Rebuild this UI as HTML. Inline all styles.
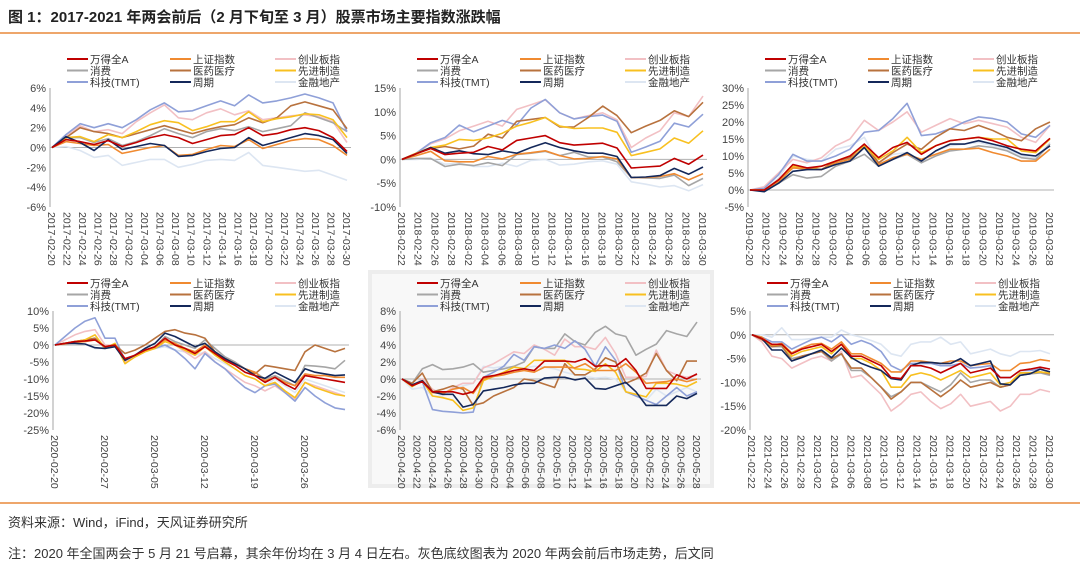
<!DOCTYPE html>
<html><head><meta charset="utf-8">
<style>
body{margin:0;background:#fff;}
svg{display:block;font-family:"Liberation Sans","Noto Sans CJK SC",sans-serif;}
</style></head>
<body>
<svg id="chart" width="1080" height="568" viewBox="0 0 1080 568">
<text x="8" y="22" font-size="15" font-weight="bold" fill="#222">图 1：2017-2021 年两会前后（2 月下旬至 3 月）股票市场主要指数涨跌幅</text>
<line x1="0" y1="33" x2="1080" y2="33" stroke="#e8883a" stroke-width="1.5"/>
<rect x="368" y="270" width="346" height="218" fill="#ededed"/>
<rect x="372" y="274" width="338" height="210" fill="#f8f8f8"/>
<line x1="0" y1="503" x2="1080" y2="503" stroke="#e8883a" stroke-width="1.5"/>
<text x="8" y="527" font-size="13" fill="#333">资料来源：Wind，iFind，天风证券研究所</text>
<text x="8" y="558" font-size="13" fill="#333">注：2020 年全国两会于 5 月 21 号启幕，其余年份均在 3 月 4 日左右。灰色底纹图表为 2020 年两会前后市场走势，后文同</text>
</svg>
<script>
const seriesNames=["万得全A","上证指数","创业板指","消费","医药医疗","先进制造","科技(TMT)","周期","金融地产"];
const seriesKeys=["wind","sz","cyb","xf","yy","zz","tmt","zq","jr"];
const seriesColors=["#c00000","#f08a30","#f2c0c4","#a6a6a6","#b8723e","#f8c020","#8fa0d8","#14285a","#dde6f2"];

const p1_wind=[0,0.8,0.6,0.3,0.7,0.1,0.5,1.0,1.3,1.0,0.4,0.8,1.2,1.3,2.0,1.2,1.4,1.8,2.0,1.7,1.0,-0.4];
const p1_sz=[0,0.6,0.4,0.2,0.3,-0.6,-0.3,0,0.2,-0.8,-0.7,-0.2,0.2,0.1,0.8,-0.1,0.3,0.7,0.9,0.8,0.2,-0.8];
const p1_cyb=[0,1.2,2.2,1.6,1.8,1.4,2.6,3.5,4.3,3.0,2.8,3.5,3.9,3.3,3.7,2.8,3.0,3.2,3.3,3.1,2.6,0.5];
const p1_xf=[0,1.0,1.0,0.5,0.9,0.2,0.6,1.2,1.9,1.4,1.0,1.6,1.9,1.7,2.1,1.6,1.9,2.2,3.5,3.0,2.5,1.6];
const p1_yy=[0,1.0,2.0,1.6,1.4,1.0,1.4,1.8,2.2,1.8,1.4,1.8,2.1,2.3,3.0,2.5,3.0,4.2,4.6,4.2,3.8,1.9];
const p1_zz=[0,1.0,1.1,0.6,1.3,1.0,1.6,2.3,2.7,2.5,1.7,2.1,2.6,2.6,3.6,2.6,2.9,3.1,3.4,3.3,2.8,1.0];
const p1_tmt=[0,1.3,2.4,2.0,2.4,2.0,2.8,3.8,4.5,3.6,3.7,4.2,4.7,4.2,5.3,4.5,4.7,5.0,5.4,5.0,4.5,1.6];
const p1_zq=[0,1.1,0.5,-0.3,0.8,-0.2,0.1,0.4,0.2,-0.9,-0.8,-0.4,-0.1,0,1.0,0.2,0.6,1.0,1.4,1.2,0.8,-0.6];
const p1_jr=[0,0.1,-0.3,-1.0,-0.8,-1.8,-1.5,-1.2,-1.2,-2.0,-1.7,-1.3,-1.2,-1.3,-0.5,-1.8,-2.0,-2.2,-2.4,-2.3,-2.8,-3.3];
const p1_ticks=["6%","4%","2%","0%","-2%","-4%","-6%"];
const p1_dates=["2017-02-20","2017-02-22","2017-02-24","2017-02-26","2017-02-28","2017-03-02","2017-03-04","2017-03-06","2017-03-08","2017-03-10","2017-03-12","2017-03-14","2017-03-16","2017-03-18","2017-03-20","2017-03-22","2017-03-24","2017-03-26","2017-03-28","2017-03-30"];

const p2_wind=[0,1.2,2.3,1.0,1.3,1.5,2.7,2.0,4.0,4.5,5.0,3.5,3.0,3.2,3.4,2.4,-1.8,-1.6,-1.4,0.2,-1.0,0.9];
const p2_sz=[0,0.8,1.7,-0.3,-0.5,-0.5,0.6,0.1,1.1,1.4,1.8,0.8,0.1,0.2,0.6,0.1,-3.8,-3.8,-3.6,-3.0,-4.3,-3.0];
const p2_cyb=[0,1.3,3.3,4.3,6.0,7.0,8.0,7.0,10.5,11.5,12.5,9.8,8.5,9.2,9.8,8.3,2.5,4.5,6.0,9.8,9.0,13.3];
const p2_xf=[0,0.2,0.2,-1.5,-1.0,-1.3,-0.7,-1.3,1.0,1.3,1.7,0.8,1.5,0.5,0.5,-0.5,-3.8,-3.9,-4.0,-3.3,-5.5,-4.0];
const p2_yy=[0,1.3,2.3,2.7,2.2,2.8,5.3,4.5,8.0,8.4,8.8,6.8,6.8,8.8,11.2,9.2,5.6,7.0,8.2,10.2,9.0,12.0];
const p2_zz=[0,1.3,2.5,3.0,4.2,4.0,4.5,5.5,7.0,7.8,8.8,7.0,6.5,6.6,6.6,5.7,0.8,1.5,2.2,4.5,3.4,6.0];
const p2_tmt=[0,1.3,3.5,4.6,7.2,5.8,7.0,8.2,7.2,10.8,12.6,9.8,8.5,9.0,9.3,8.0,1.5,2.6,3.8,7.6,6.8,9.5];
const p2_zq=[0,1.2,2.5,1.3,1.8,1.2,1.0,1.8,1.3,2.5,3.5,2.5,1.8,1.3,1.3,0.6,-3.8,-3.7,-3.4,-1.9,-3.1,-1.6];
const p2_jr=[0,0.0,0.2,-1.0,-0.8,-1.5,-1.5,-0.8,-1.5,-0.2,0.0,-1.2,-1.0,-0.5,-0.3,-1.0,-4.7,-5.2,-5.8,-5.5,-6.6,-5.3];
const p2_ticks=["15%","10%","5%","0%","-5%","-10%"];
const p2_dates=["2018-02-22","2018-02-24","2018-02-26","2018-02-28","2018-03-02","2018-03-04","2018-03-06","2018-03-08","2018-03-10","2018-03-12","2018-03-14","2018-03-16","2018-03-18","2018-03-20","2018-03-22","2018-03-24","2018-03-26","2018-03-28","2018-03-30"];

const p3_wind=[0,0,3,7.5,6.5,7,8.5,10,13.5,9.5,12.5,14,10.5,13,14.5,15,15.5,14.5,13,12,11.5,15.2];
const p3_sz=[0,0,2.5,6.5,6.2,6,8,9,12.5,7.5,9.5,10.5,9,10.5,12,12,12.3,11,10,8.5,8.5,12];
const p3_cyb=[0,1,5,9,8,9.5,13,15,20.5,17.5,20,23,17,19,21,19.5,20.5,19.5,18.5,15.5,14,19];
const p3_xf=[0,0,2,4.5,3.5,4,7,8.5,10.5,7,9,10.5,8,10,11.5,12,13,12.5,11.5,9.5,9,13.5];
const p3_yy=[0,0,3,7,6.5,6,8.5,9.5,13.5,8,11,13.5,12,15.5,18,17.5,19,17.5,15.5,14.5,18,20];
const p3_zz=[0,0,3,7,6,7,8.5,10,13,9,11.5,15.5,11,13,14.5,15,15.5,15,15,11.5,11,15];
const p3_tmt=[0,0.5,4.5,10.5,8.5,8.5,10,12,17,17.5,21,25.5,16,16.5,18,20,21.5,21,20,16.5,15.5,19];
const p3_zq=[0,-0.5,2,5.5,6,6,7.5,8.5,12.5,7,9,11,8.5,11.5,13.5,13.5,14.5,13.5,12.5,10.5,10,13];
const p3_jr=[0,0,3.5,10,9,8.5,12,13,15.5,8,10.5,11,8,11.5,13,13.5,14,13,12,10,9.5,14];
const p3_ticks=["30%","25%","20%","15%","10%","5%","0%","-5%"];
const p3_dates=["2019-02-20","2019-02-22","2019-02-24","2019-02-26","2019-02-28","2019-03-02","2019-03-04","2019-03-06","2019-03-08","2019-03-10","2019-03-12","2019-03-14","2019-03-16","2019-03-18","2019-03-20","2019-03-22","2019-03-24","2019-03-26","2019-03-28"];

const p4_wind=[0,0.5,1,1.2,1.5,-0.5,0,-4,-3,-1.5,-0.5,2,0,-1,-2.5,-0.5,-2.5,-4.5,-6,-8,-9,-11,-9.5,-11.5,-13,-9,-9.5,-10,-10.5,-11];
const p4_sz=[0,0.3,0.8,1,1.5,-0.5,0,-4.5,-3,-1.5,-0.5,1.5,0.5,-1,-2,0,-2.5,-4,-5.5,-7,-8,-10.5,-9.5,-11,-12,-8.5,-9,-9,-9.5,-9.5];
const p4_cyb=[0,1.5,3,4,4.5,0,0,-5,-3.5,-2,-1,2,0,-2,-4,-2,-5,-7,-9,-11,-12,-13.5,-12,-14,-16,-11,-12,-13,-14,-15];
const p4_xf=[0,0.5,1,1.2,2,-1,0,-4.5,-3,-1.5,-0.5,2.5,1,0,-1,1.5,-1,-3.5,-5,-7,-8,-10,-9,-10.5,-12,-6,-6.2,-6.5,-7,-4.5];
const p4_yy=[0,0.5,1,1.5,2,-0.5,0,-2.5,-1.5,0,2,4,4.5,3.5,3,2,-2,-4,-5.5,-7,-8.5,-6,-6.5,-7,-7.5,-2,0,-1,-2,-1];
const p4_zz=[0,0.5,1,1.5,3,-1,0.5,-5.5,-3.5,-2,-1,1,0,-1.5,-3,-0.5,-3,-5,-7,-9,-10,-12,-11,-13.5,-15.5,-11,-12.5,-13.5,-14.5,-15];
const p4_tmt=[0,2.5,5,7,8,2,2,-4.5,-3,-1.5,-1,0,-1.5,-4,-7,-2.5,-5,-7,-10,-12.5,-14,-12,-11.5,-14,-16.5,-12.5,-15,-17,-18.5,-19];
const p4_zq=[0,0.5,0.5,0.3,-0.8,-1,-0.5,-4.5,-3,-1,0.5,3.5,2.5,1,-0.5,0.5,-2,-4,-5.5,-7,-9,-9.8,-8,-9.5,-11,-7,-8,-8.5,-9,-8.8];
const p4_jr=[0,0.3,0.5,0.2,-1,-1,0,-4,-3,-1.5,-1,-0.5,-1.5,-2,-3,-2,-4,-5.5,-7,-9,-10,-12,-10,-12,-14,-10,-11,-12,-13,-14];
const p4_ticks=["10%","5%","0%","-5%","-10%","-15%","-20%","-25%"];
const p4_dates=["2020-02-20","2020-02-27","2020-03-05","2020-03-12","2020-03-19","2020-03-26"];

const p5_wind=[0,-0.8,-0.3,-1.5,-1.5,-1.5,-1.8,-1.5,0.2,0.4,0.7,1.0,1.2,1.0,2.1,2.1,2.1,2.0,2.4,1.5,1.6,1.5,2.4,1.0,-1.1,-1.1,-1.1,0.5,0,0.6];
const p5_sz=[0,-0.7,-0.3,-1.6,-1.7,-1.2,-1.0,-1.7,0,0.3,0.5,0.8,1.0,0.8,1.4,1.4,1.4,1.3,1.8,1.0,1.0,1.0,1.8,0.8,-0.5,-0.4,-0.3,0,-0.3,0];
const p5_cyb=[0,-0.8,0,-1.2,-1.8,-1.0,-0.5,-0.5,1.3,1.8,2.5,3.2,3.0,4.0,3.5,2.8,4.7,3.8,3.8,3.5,4.9,3.0,0.2,0.2,0.3,3.4,1.0,0.5,0.2,0.5];
const p5_xf=[0,-0.5,1.2,1.7,1.1,1.2,1.4,1.8,0.8,1.0,1.2,1.5,2.0,3.8,3.6,3.6,5.3,4.4,4.0,5.5,6.2,5.3,5.0,2.8,3.5,4.1,5.7,5.3,5.0,6.7];
const p5_yy=[0,-0.5,0.7,-1.5,-1.2,-0.8,-1.2,-3.1,-2.8,-2.0,-1.5,-1.0,0,-0.2,-0.6,-1.0,1.8,0.5,0.5,1.2,2.5,2.0,-0.5,0,0.7,3.0,1.0,-0.2,2.1,2.1];
const p5_zz=[0,-0.9,-0.2,-2.0,-2.2,-2.5,-3.7,-3.4,-0.2,0.3,0.8,1.4,1.2,2.2,2.2,2.2,2.2,1.2,1.1,0.9,1.8,0.8,-1.5,-1.8,-2.1,-0.5,-0.5,-0.6,-0.9,-0.3];
const p5_tmt=[0,-0.7,-0.3,-3.6,-3.8,-3.9,-4.0,-3.9,0.2,0.8,1.5,2.9,2.2,3.8,3.6,4.0,3.6,4.5,3.5,1.5,3.8,2.2,-1.5,-2.0,-2.5,-3.0,-2.0,-1.0,-2.0,-1.5];
const p5_zq=[0,-0.7,-0.2,-1.5,-1.8,-1.8,-3.3,-3.0,-1.4,-1.2,-1.0,-0.7,-0.5,-0.5,0.1,0.2,0.2,-0.1,0.1,-1.1,-1.2,-0.8,-0.4,-1.5,-3.1,-3.1,-3.1,-2.0,-2.3,-1.7];
const p5_jr=[0,-1.2,-1.0,-2.0,-2.0,-1.2,-0.8,-0.5,1.5,1.3,1.5,1.4,1.3,1.5,1.4,1.2,0.8,0.5,0.3,0.1,0.2,0,-1.5,-2.0,-2.5,-1.2,-2.0,-1.5,-1.0,-1.5];
const p5_ticks=["8%","6%","4%","2%","0%","-2%","-4%","-6%"];
const p5_dates=["2020-04-20","2020-04-22","2020-04-24","2020-04-26","2020-04-28","2020-04-30","2020-05-02","2020-05-04","2020-05-06","2020-05-08","2020-05-10","2020-05-12","2020-05-14","2020-05-16","2020-05-18","2020-05-20","2020-05-22","2020-05-24","2020-05-26","2020-05-28"];

const p6_wind=[0,-0.8,-2,-2,-4,-3,-2.5,-2,-3.5,-2,-4.5,-4.5,-5.5,-6.5,-9,-9.2,-6.5,-6.5,-7,-8,-7,-6,-8,-7.5,-7,-9,-9,-7.5,-7.2,-6.8,-7.2];
const p6_sz=[0,-0.5,-2.2,-1.8,-3.8,-2.8,-2,-1.8,-3,-1.5,-4,-4,-5,-6,-7.8,-7.8,-5.5,-5.5,-5.8,-6,-5.5,-5.5,-6.5,-6.2,-6,-7.5,-7.5,-6,-5.8,-5.2,-5.5];
const p6_cyb=[0,-1.5,-4.5,-5,-7,-6,-5,-4.5,-5.5,-3.5,-9,-8.5,-10.5,-12.5,-16,-14.5,-12.5,-12,-14,-15.5,-14.5,-12.5,-15,-14.5,-14,-16,-15,-12.5,-12.5,-11.5,-12];
const p6_xf=[0,-0.8,-2.5,-2.5,-5,-4.5,-4,-3.5,-5.5,-4,-7.5,-7.5,-9,-11,-13,-12,-10,-10,-11,-12,-10.5,-8,-10,-9.5,-9.5,-11,-10.5,-8.5,-8.2,-8,-8.5];
const p6_yy=[0,-1,-2.5,-2.2,-5.5,-4.5,-4,-3.5,-5,-4,-7,-7,-9,-11,-13.5,-12,-10,-10,-11.5,-13,-11.5,-9.5,-11,-10.5,-10,-11,-10.5,-8,-8,-7.8,-8.2];
const p6_zz=[0,-0.8,-2.2,-2,-4.5,-3.5,-3,-2.5,-4,-2,-5,-5,-6,-7.5,-11,-11,-8.5,-8,-8.5,-9.5,-8.5,-7.5,-9,-8.5,-8,-10.5,-10,-8,-8,-7.8,-8];
const p6_tmt=[0,-0.5,-1.5,-1.5,-3,-2,-1,-0.5,-1.5,0,-2,-1.2,-2,-3.5,-6.5,-7.5,-6,-6,-6,-6.5,-6.5,-6,-7,-6.8,-6.5,-9,-9,-7.5,-7.5,-7.2,-7.8];
const p6_zq=[0,-0.8,-3.2,-3.2,-5.5,-4.8,-4,-3.2,-4.8,-2.8,-4.8,-6,-6.8,-7.5,-9.2,-9.5,-6.5,-5.8,-5.8,-6,-6,-5,-6.5,-6,-5.5,-10.3,-10.5,-8.5,-8.2,-7.2,-7.8];
const p6_jr=[0,0,-0.5,1.5,-1,-1,-0.8,-0.5,-0.5,1,0,-0.5,-1.2,-2,-4,-4.5,-2,-1.5,-1.5,-0.5,-2,-1.5,-4,-3.5,-3,-4,-4.5,-3.5,-3.5,-3.3,-4];
const p6_ticks=["5%","0%","-5%","-10%","-15%","-20%"];
const p6_dates=["2021-02-22","2021-02-24","2021-02-26","2021-02-28","2021-03-02","2021-03-04","2021-03-06","2021-03-08","2021-03-10","2021-03-12","2021-03-14","2021-03-16","2021-03-18","2021-03-20","2021-03-22","2021-03-24","2021-03-26","2021-03-28","2021-03-30"];

const NS="http://www.w3.org/2000/svg";
const svg=document.getElementById("chart");
function mk(tag,attrs,parent){const e=document.createElementNS(NS,tag);for(const k in attrs)e.setAttribute(k,attrs[k]);(parent||svg).appendChild(e);return e;}

const panels=[
 {id:"2017",x0:52,x1:347,yT:88,yB:207,vmax:6,vmin:-6,lx:52,ly:59,ticks:p1_ticks,dates:p1_dates,data:{wind:p1_wind,sz:p1_sz,cyb:p1_cyb,xf:p1_xf,yy:p1_yy,zz:p1_zz,tmt:p1_tmt,zq:p1_zq,jr:p1_jr},datePos:null},
 {id:"2018",x0:402,x1:703,yT:88,yB:207,vmax:15,vmin:-10,lx:402,ly:59,ticks:p2_ticks,dates:p2_dates,data:{wind:p2_wind,sz:p2_sz,cyb:p2_cyb,xf:p2_xf,yy:p2_yy,zz:p2_zz,tmt:p2_tmt,zq:p2_zq,jr:p2_jr},datePos:null},
 {id:"2019",x0:750,x1:1050,yT:88,yB:207,vmax:30,vmin:-5,lx:750,ly:59,ticks:p3_ticks,dates:p3_dates,data:{wind:p3_wind,sz:p3_sz,cyb:p3_cyb,xf:p3_xf,yy:p3_yy,zz:p3_zz,tmt:p3_tmt,zq:p3_zq,jr:p3_jr},datePos:null},
 {id:"2020q1",x0:55,x1:345,yT:311,yB:430,vmax:10,vmin:-25,lx:52,ly:283,ticks:p4_ticks,dates:p4_dates,data:{wind:p4_wind,sz:p4_sz,cyb:p4_cyb,xf:p4_xf,yy:p4_yy,zz:p4_zz,tmt:p4_tmt,zq:p4_zq,jr:p4_jr},datePos:5},
 {id:"2020lh",x0:402,x1:697,yT:311,yB:430,vmax:8,vmin:-6,lx:402,ly:283,ticks:p5_ticks,dates:p5_dates,data:{wind:p5_wind,sz:p5_sz,cyb:p5_cyb,xf:p5_xf,yy:p5_yy,zz:p5_zz,tmt:p5_tmt,zq:p5_zq,jr:p5_jr},datePos:null},
 {id:"2021",x0:752,x1:1050,yT:311,yB:430,vmax:5,vmin:-20,lx:752,ly:283,ticks:p6_ticks,dates:p6_dates,data:{wind:p6_wind,sz:p6_sz,cyb:p6_cyb,xf:p6_xf,yy:p6_yy,zz:p6_zz,tmt:p6_tmt,zq:p6_zq,jr:p6_jr},datePos:null}
];
const drawOrder=["jr","cyb","xf","tmt","yy","zz","sz","zq","wind"];

panels.forEach(p=>{
  const g=mk("g",{});
  
  
  const yS=v=>p.yT+(p.vmax-v)/(p.vmax-p.vmin)*(p.yB-p.yT);
  const nT=p.ticks.length;
  p.ticks.forEach((t,i)=>{
    const y=p.yT+i*(p.yB-p.yT)/(nT-1);
    const tx=mk("text",{x:p.x0-6,y:y+4,"font-size":11,fill:"#444","text-anchor":"end"},g);
    tx.textContent=t;
    
    
  });
  const ax=mk("line",{x1:p.x0-2,y1:p.yT,x2:p.x0-2,y2:p.yB,stroke:"#a6a6a6","stroke-width":1},g);
  
  
  const zl=mk("line",{x1:p.x0-2,y1:yS(0),x2:p.x1+4,y2:yS(0),stroke:"#b0b0b0","stroke-width":1},g);
  
  
  const nD=p.dates.length;
  p.dates.forEach((d,i)=>{
    let x;
    if(p.datePos){const n=p.data.wind.length;x=p.x0+i*p.datePos*(p.x1-p.x0)/(n-1);}
    else x=p.x0+i*(p.x1-p.x0)/(nD-1);
    const tx=mk("text",{x:x-4,y:p.yB+5,"font-size":10.5,fill:"#444",transform:`rotate(90 ${x-4} ${p.yB+5})`},g);
    tx.textContent=d;
    
    
  });
  drawOrder.forEach(k=>{
    const arr=p.data[k];const idx=seriesKeys.indexOf(k);
    const n=arr.length;
    const pts=arr.map((v,i)=>(p.x0+i*(p.x1-p.x0)/(n-1)).toFixed(1)+","+yS(v).toFixed(1)).join(" ");
    const pl=mk("polyline",{points:pts,fill:"none",stroke:seriesColors[idx],"stroke-width":1.6,"stroke-linejoin":"round"},g);
    
    
  });
  seriesNames.forEach((nm,i)=>{
    const col=i%3,row=Math.floor(i/3);
    const bx=p.lx+[15,118,223][col];
    const y=p.ly+row*11.5;
    const lg=mk("g",{},g);
    
    
    mk("line",{x1:bx,y1:y,x2:bx+21,y2:y,stroke:seriesColors[i],"stroke-width":2},lg);
    const tx=mk("text",{x:bx+23,y:y+4,"font-size":10.5,fill:"#333"},lg);
    tx.textContent=nm;
  });
});
</script>
</body></html>
